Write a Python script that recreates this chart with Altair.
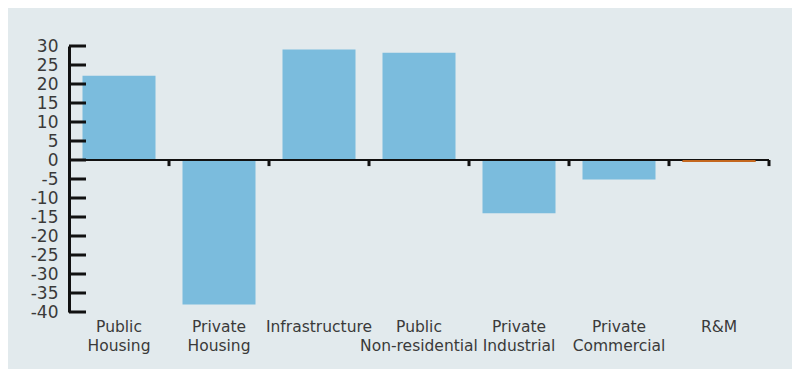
import altair as alt
import pandas as pd

categories = ["Public Housing", "Private Housing", "Infrastructure",
              "Public Non-residential", "Private Industrial",
              "Private Commercial", "R&M"]
values = [22.2, -38.0, 29.1, 28.2, -14.0, -5.1, -0.5]
colors = ["#7bbcdd", "#7bbcdd", "#7bbcdd", "#7bbcdd", "#7bbcdd", "#7bbcdd", "#c4671e"]
overlay_colors = ["transparent", "transparent", "transparent", "transparent",
                  "transparent", "transparent", "#c4671e"]
y_ticks = [-40, -35, -30, -25, -20, -15, -10, -5, 0, 5, 10, 15, 20, 25, 30]

df = pd.DataFrame({"cat": categories, "value": values, "color": colors,
                   "overlay": overlay_colors})
tick_df = pd.DataFrame({"v": y_ticks})

FONT = "DejaVu Sans"
TXT = "#3a3a3a"

yscale = alt.Scale(domain=[-40, 30], nice=False, zero=False)
xscale = alt.Scale(paddingInner=0.27, paddingOuter=0.135)

x_axis = alt.Axis(title=None, domain=False, ticks=False, labelAngle=0,
                  labelExpr="split(datum.label, ' ')",
                  labelFont=FONT, labelFontSize=15.5, labelColor=TXT,
                  labelPadding=7, labelLineHeight=19, labelBaseline="top")
y_axis = alt.Axis(title=None, values=y_ticks, ticks=False, tickSize=0,
                  grid=False, domainColor="#111111", domainWidth=3,
                  labelOverlap=False, labelExpr="datum.value + ''",
                  labelFont=FONT, labelFontSize=17, labelColor=TXT,
                  labelPadding=11)

bars = alt.Chart(df).mark_bar().encode(
    x=alt.X("cat:N", sort=categories, scale=xscale, axis=x_axis),
    y=alt.Y("value:Q", scale=yscale, axis=y_axis),
    color=alt.Color("color:N", scale=None),
)

zero_line = alt.Chart(df).mark_rule(color="#111111", strokeWidth=2).encode(
    y=alt.datum(0, scale=yscale, axis=y_axis)
)

overlay = alt.Chart(df).mark_bar().encode(
    x=alt.X("cat:N", sort=categories, scale=xscale, axis=x_axis),
    y=alt.Y("value:Q", scale=yscale, axis=y_axis),
    color=alt.Color("overlay:N", scale=None),
)

y_tick_marks = alt.Chart(tick_df).mark_rule(color="#111111", strokeWidth=3).encode(
    y=alt.Y("v:Q", scale=yscale, axis=y_axis),
    x=alt.value(0),
    x2=alt.value(17),
)

main = alt.layer(bars, zero_line, overlay, y_tick_marks)

bound_ticks = alt.Chart(df).mark_rule(color="#111111", strokeWidth=3).encode(
    x=alt.X("cat:N", sort=categories, bandPosition=1,
            scale=alt.Scale(paddingInner=0, paddingOuter=0), axis=None),
    y=alt.datum(0, scale=yscale, axis=y_axis),
    y2=alt.datum(-1.6),
)

chart = alt.layer(main, bound_ticks).resolve_scale(
    x="independent"
).properties(
    width=700, height=266,
    autosize=alt.AutoSizeParams(type="none"),
    padding={"left": 61, "top": 38, "right": 23, "bottom": 57},
    background="#e2eaed",
).configure_view(stroke=None).configure_axisY(labelOverlap=False)

chart.save("out.html", embed_options={"renderer": "svg", "actions": False})
